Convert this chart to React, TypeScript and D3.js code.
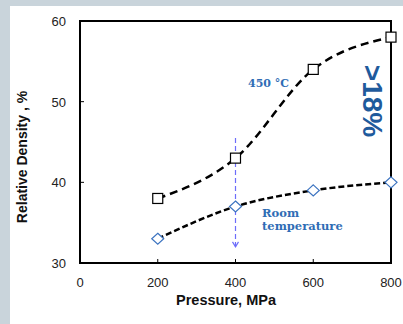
import React from "react";
import * as d3 from "d3";

const pressures = [200, 400, 600, 800];
const hotDensity = [38, 43, 54, 58];
const roomDensity = [33, 37, 39, 40];
const xTicks = [0, 200, 400, 600, 800];
const yTicks = [30, 40, 50, 60];

const W = 403;
const H = 324;
const M = { left: 80, right: 391, top: 21, bottom: 263 };

export default function App() {
  const x = d3.scaleLinear().domain([0, 800]).range([M.left, M.right]);
  const y = d3.scaleLinear().domain([30, 60]).range([M.bottom, M.top]);
  const line = d3
    .line<[number, number]>()
    .x((d) => x(d[0]))
    .y((d) => y(d[1]))
    .curve(d3.curveMonotoneX);
  const hotPts = pressures.map((p, i) => [p, hotDensity[i]] as [number, number]);
  const roomPts = pressures.map((p, i) => [p, roomDensity[i]] as [number, number]);
  const arrowX = x(400);
  const arrowTop = y(45.5);
  const arrowBot = y(32);
  const blue = "#2f6db5";
  return (
    <svg
      width={W}
      height={H}
      style={{ position: "fixed", left: 0, top: 0, fontFamily: "Arial, 'Liberation Sans', sans-serif" }}
    >
      <rect x={0} y={0} width={W} height={H} fill="#c9d4db" />
      <rect x={10} y={6} width={W - 10} height={H - 6} fill="#ffffff" />
      {yTicks.slice(1, -1).map((t) => (
        <line key={"yt" + t} x1={M.left} x2={M.left + 4} y1={y(t)} y2={y(t)} stroke="#000" strokeWidth={1} />
      ))}
      {xTicks.slice(1, -1).map((t) => (
        <line key={"xt" + t} x1={x(t)} x2={x(t)} y1={M.bottom} y2={M.bottom - 4} stroke="#000" strokeWidth={1} />
      ))}
      <rect
        x={M.left}
        y={M.top}
        width={M.right - M.left}
        height={M.bottom - M.top}
        fill="none"
        stroke="#000"
        strokeWidth={2}
      />
      {yTicks.map((t) => (
        <text key={"yl" + t} x={66} y={y(t) + 5} textAnchor="end" fontSize={13} fill="#222">
          {t}
        </text>
      ))}
      {xTicks.map((t) => (
        <text key={"xl" + t} x={x(t)} y={287} textAnchor="middle" fontSize={13} fill="#222">
          {t}
        </text>
      ))}
      <text x={226} y={305} textAnchor="middle" fontSize={14.5} fontWeight="bold" fill="#111">
        Pressure,  MPa
      </text>
      <text
        transform={`translate(27,157) rotate(-90)`}
        textAnchor="middle"
        fontSize={14}
        fontWeight="bold"
        fill="#111"
      >
        Relative Density , %
      </text>
      <line x1={arrowX} x2={arrowX} y1={arrowTop} y2={arrowBot} stroke="#6d6dfa" strokeWidth={1.2} strokeDasharray="5,3" />
      <path
        d={`M${arrowX - 3},${arrowBot - 5} L${arrowX},${arrowBot} L${arrowX + 3},${arrowBot - 5}`}
        fill="none"
        stroke="#6d6dfa"
        strokeWidth={1.2}
      />
      <path d={line(hotPts) || ""} fill="none" stroke="#000" strokeWidth={2.5} strokeDasharray="8,5" />
      <path d={line(roomPts) || ""} fill="none" stroke="#000" strokeWidth={2.5} strokeDasharray="6,3" />
      {hotPts.map((d, i) => (
        <rect
          key={"h" + i}
          x={x(d[0]) - 5}
          y={y(d[1]) - 5}
          width={10}
          height={10}
          fill="#fff"
          stroke="#000"
          strokeWidth={1.2}
        />
      ))}
      {roomPts.map((d, i) => (
        <path
          key={"r" + i}
          d={`M${x(d[0])},${y(d[1]) - 5.5} L${x(d[0]) + 6},${y(d[1])} L${x(d[0])},${y(d[1]) + 5.5} L${x(d[0]) - 6},${y(d[1])} Z`}
          fill="#fff"
          stroke="#3b73c0"
          strokeWidth={1.2}
        />
      ))}
      <text x={248} y={87} fontSize={11} fontWeight="bold" fill={blue} fontFamily="'DejaVu Serif', serif">
        450 °C
      </text>
      <text x={262} y={217} fontSize={11.5} fontWeight="bold" fill={blue} fontFamily="'DejaVu Serif', serif">
        Room
      </text>
      <text x={262} y={230} fontSize={11.5} fontWeight="bold" fill={blue} fontFamily="'DejaVu Serif', serif">
        temperature
      </text>
      <text
        transform={`translate(363,101) rotate(90)`}
        textAnchor="middle"
        fontSize={28}
        fontWeight="bold"
        fill="#1f5a9c"
      >
        &gt;18%
      </text>
    </svg>
  );
}
